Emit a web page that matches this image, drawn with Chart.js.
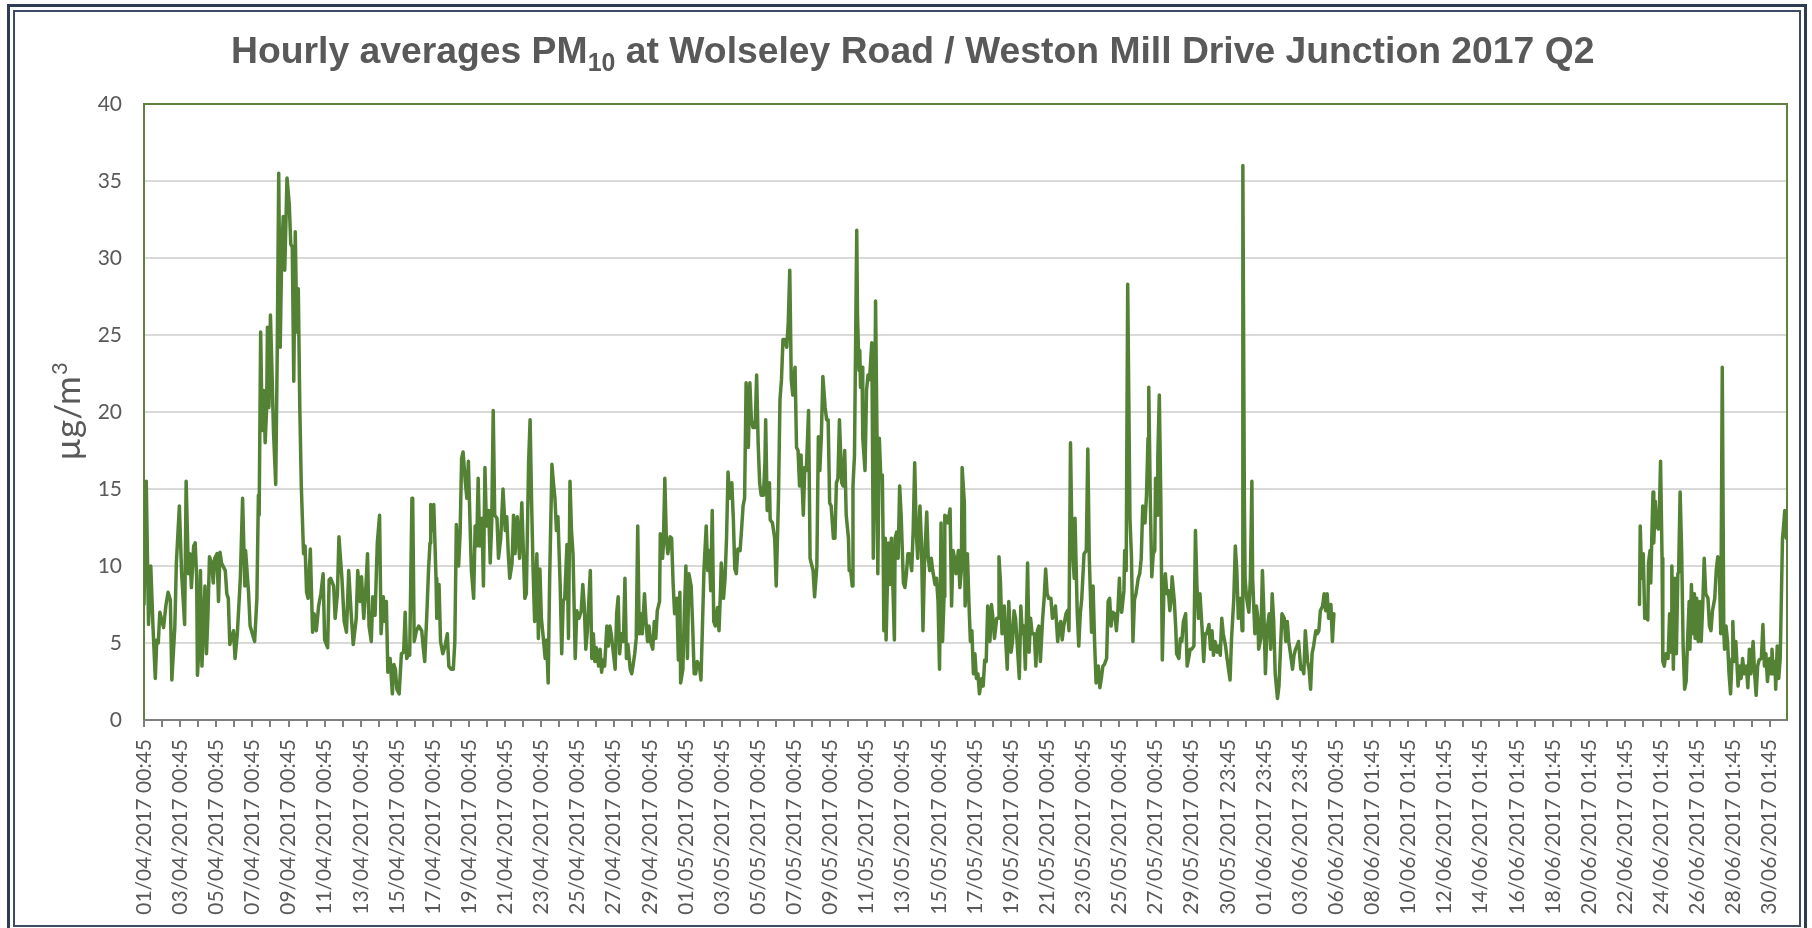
<!DOCTYPE html>
<html><head><meta charset="utf-8">
<script src="https://cdn.jsdelivr.net/npm/chart.js@4/dist/chart.umd.min.js"></script>
<style>html,body{margin:0;padding:0;background:#fff}canvas{display:block}</style>
</head><body>
<canvas id="c" width="1812" height="928"></canvas>
<script>
// ---------------- DATA ----------------
const titleMain = 'Hourly averages PM';
const titleSub = '10';
const titleRest = ' at Wolseley Road / Weston Mill Drive Junction 2017 Q2';
const yTitleMain = 'µg/m';
const yTitleSup = '3';

const yMin = 0, yMax = 40, yStep = 5;
const totalHours = 2183;          // hourly categories in the quarter
const hoursPerTick = 24;          // one tick mark per day
const tickCount = 91;

const tickLabels = [
  '01/04/2017 00:45','03/04/2017 00:45','05/04/2017 00:45','07/04/2017 00:45','09/04/2017 00:45',
  '11/04/2017 00:45','13/04/2017 00:45','15/04/2017 00:45','17/04/2017 00:45','19/04/2017 00:45',
  '21/04/2017 00:45','23/04/2017 00:45','25/04/2017 00:45','27/04/2017 00:45','29/04/2017 00:45',
  '01/05/2017 00:45','03/05/2017 00:45','05/05/2017 00:45','07/05/2017 00:45','09/05/2017 00:45',
  '11/05/2017 00:45','13/05/2017 00:45','15/05/2017 00:45','17/05/2017 00:45','19/05/2017 00:45',
  '21/05/2017 00:45','23/05/2017 00:45','25/05/2017 00:45','27/05/2017 00:45','29/05/2017 00:45',
  '30/05/2017 23:45','01/06/2017 23:45','03/06/2017 23:45','06/06/2017 00:45','08/06/2017 01:45',
  '10/06/2017 01:45','12/06/2017 01:45','14/06/2017 01:45','16/06/2017 01:45','18/06/2017 01:45',
  '20/06/2017 01:45','22/06/2017 01:45','24/06/2017 01:45','26/06/2017 01:45','28/06/2017 01:45',
  '30/06/2017 01:45'
];

// [hour index from 01/04 00:45, PM10 µg/m³]
const pm10Part1 = [
 [0,7.5],[3,15.5],[6,6.2],[9,10],[12,6],[15,2.7],[17,5.2],[19,5],[21,7],[26,6],[29,7.4],[32,8.3],[35,7.8],[37,2.6],
 [41,6.1],[43,10.2],[47,13.9],[50,9.5],[54,6.2],[56,15.5],[59,9.5],[61,10.8],[63,8.6],[66,11.3],[68,11.5],[70,9.2],
 [71,2.9],[74,5.5],[75,9.7],[77,3.5],[79,6.1],[81,8.7],[83,4.3],[85,6.9],[87,10.6],[90,10.2],[92,8.9],[94,10.5],
 [97,10.8],[99,7.7],[101,10.9],[103,10.2],[108,9.7],[110,8.2],[112,7.9],[114,4.9],[119,5.8],[121,4],[124,5.6],
 [128,9.2],[131,14.4],[134,8.7],[135,11],[139,8.2],[141,6.1],[144,5.6],[147,5.1],[150,7.9],[152,14.6],[153,13.3],
 [155,25.2],[157,18.8],[159,21.4],[161,18],[163,20.3],[164,25.5],[166,20.3],[168,26.3],[170,22.7],[172,18.8],
 [175,15.3],[177,23.7],[179,35.5],[181,24.2],[183,30.4],[185,32.7],[187,29.2],[190,35.2],[193,33.5],[195,30.9],
 [197,30.7],[199,22],[201,31.7],[203,25.2],[205,28],[207,20.3],[209,15.2],[212,10.8],[214,11.3],[216,8.3],
 [218,7.9],[221,11.1],[224,5.7],[226,6.9],[229,5.8],[232,7.4],[235,8.2],[238,9.5],[240,5.2],[244,4.7],[246,9.1],
 [248,9.2],[252,8.7],[254,6.6],[257,8.2],[259,11.9],[263,9.2],[266,6.4],[269,5.7],[272,9.7],[275,7.1],[278,4.9],
 [282,6.6],[284,9.7],[287,7.7],[289,9.3],[292,6.6],[295,8.8],[297,10.8],[299,6.1],[302,5.1],[304,8],[307,6.8],
 [310,11.5],[313,13.3]
];
const pm10Part2 = [
 [315,5.6],[318,8],[320,6.4],[322,7.7],[324,3.1],[327,4],[330,1.7],[332,3.6],[334,3.3],[336,2],[339,1.7],[342,4.3],
 [345,4.4],[347,7],[349,4],[351,4.2],[353,4.2],[356,14.4],[357,14.4],[359,5.1],[362,5.8],[365,6.1],[369,5.8],
 [371,4.7],[373,3.8],[376,7.1],[378,9.7],[380,11.5],[381,14],[383,12.3],[385,14],[388,9.2],[389,6.6],[392,8.8],
 [394,5.1],[397,4.3],[400,4.8],[403,5.6],[405,3.5],[408,3.3],[411,3.3],[413,5.1],[415,12.7],[418,10],[420,12.1],
 [422,17],[424,17.4],[427,15.4],[429,14.4],[431,16.8],[433,13.1],[435,9.7],[438,7.9],[440,12.6],[442,11.3],
 [444,15.7],[446,11.3],[449,13.1],[451,8.7],[453,16.4],[455,12.6],[458,13.6],[460,10.2],[462,12.8],[464,20.1],
 [466,13.3],[469,13.1],[471,10.5],[474,11.8],[477,15],[480,12.3],[482,13.2],[484,10.8],[486,9.2],[489,10.2],
 [491,13.3],[493,10.8],[496,13.2],[499,10.5],[502,14.1],[504,11],[506,7.9],[508,8.2],[511,16.7],[513,19.5],
 [515,14.1],[517,9.7],[519,6.4],[522,10.8],[524,5.3],[526,9.8],[528,6.6],[531,5.1],[533,4],[535,5.2],[537,2.4],
 [539,9.2],[542,16.6],[544,15.4],[546,14.4],[548,12.3],[550,13.2],[553,8.7],[555,4.3],[557,7.7],[559,7.9],
 [562,11.4],[564,5.3],[566,15.5],[568,12.3],[570,10.8],[573,4],[575,7.1],[578,6.6],[581,7.1],[583,8.8],[585,7.4],
 [587,4.6],[589,5.7],[593,9.7],[595,4],[597,5.6],[599,3.8],[601,4.7],[604,3.5],[606,4.6],[608,3.1],[610,3.9],
 [612,3.5],[615,6.1],[617,4.8],[619,6.1],[621,5.5]
];
const pm10Part3 = [
 [626,3.3],[628,6.9],[630,8],[632,4.3],[634,5.6],[637,5.1],[639,9.2],[641,4],[643,4.9],[646,3.3],[648,3],[650,3.6],
 [652,4.3],[654,5.3],[656,12.6],[658,5.6],[660,6.9],[662,5.6],[665,8.2],[667,6.4],[669,5.1],[671,6.1],[673,5.1],
 [676,4.6],[678,6.4],[680,5.3],[682,7.1],[685,7.7],[686,12.1],[689,10.5],[690,11.3],[692,15.7],[694,11.8],
 [696,10.8],[699,11.9],[701,11.8],[703,8.9],[705,6.9],[708,7.9],[710,3.9],[712,8.3],[713,2.4],[716,3.3],[718,7.1],
 [720,10],[722,4],[724,9.5],[727,8.7],[729,6.1],[731,3],[733,3],[735,3.8],[738,3.5],[740,2.6],[742,6.1],[744,9.7],
 [747,12.6],[749,9.7],[751,11],[753,8.4],[755,13.6],[757,6.4],[759,6.1],[762,7.3],[764,5.8],[766,8.4],[767,10.2],
 [770,7.9],[772,9.2],[774,11.8],[776,16.1],[778,14.4],[781,15.4],[783,13.1],[785,9.8],[787,9.5],[789,11.1],
 [792,11],[794,12.4],[796,13.9],[798,14.4],[800,21.9],[803,17.7],[805,21.9],[807,19.5],[809,19],[812,19],
 [814,22.4],[816,18],[818,15.4],[820,14.6],[823,14.6],[825,16.7],[826,19.5],[828,13.6],[831,15.4],[832,13],
 [835,12.8],[838,11.8],[840,8.7],[843,14.4],[845,20.8],[847,22.1],[849,24.7],[851,24.7],[854,24.2],[856,25.8],
 [858,29.2],[860,22.1],[862,21.1],[865,22.9],[867,17.7],[869,17.5],[871,15.2],[873,17.2],[876,13.3],[878,16.4],
 [880,16.2],[883,20.1],[885,10.5],[887,10.1],[889,9.7],[891,8],[894,10],[896,18.4],[898,16.2],[900,18.5],
 [902,22.3],[905,20.3],[907,19.5],[909,19.5],[911,14.1],[913,13.9],[916,11.8],[918,11.8],[920,15.4],[922,15.7],
 [924,19.5],[927,15.4],[929,15.2],[931,17.5],[933,13.3],[936,11.8],[937,9.7]
];
const pm10Part4 = [
 [939,9.7],[941,8.7],[942,15.2],[944,17.2],[947,31.8],[948,26.3],[950,22.7],[951,24],[952,21.6],[954,22.9],
 [955,18.3],[958,16.2],[960,21.4],[962,22.4],[964,22.1],[967,24.5],[969,10.5],[970,13.3],[972,27.2],[974,18],
 [975,9.5],[977,18.3],[979,15.7],[981,15.9],[982,11.8],[983,5.8],[985,11.8],[986,5.2],[989,11.5],[991,8.8],
 [993,11.8],[995,8.7],[997,5.2],[998,11.8],[1000,12.2],[1002,10.5],[1004,15.2],[1006,13.3],[1009,8.9],[1011,8.6],
 [1013,9.5],[1015,10.8],[1017,10.8],[1020,9.7],[1022,12.3],[1024,16.7],[1026,12.3],[1028,10.5],[1031,13.9],
 [1033,11.5],[1035,5.8],[1037,10.2],[1040,13.5],[1042,10.5],[1044,9.7],[1046,10.5],[1048,9.7],[1051,8.8],
 [1053,9.2],[1055,7.7],[1057,3.3],[1059,12.8],[1061,5.1],[1063,8],[1064,13.3],[1066,13.2],[1068,12.8],[1071,13.7],
 [1073,7.4],[1075,11],[1077,10.5],[1079,9.5],[1082,11],[1084,8.6],[1086,9.7],[1087,16.4],[1090,14.1],[1091,7.4],
 [1094,10.8],[1096,7.7],[1098,5.1],[1100,5.8],[1102,3],[1104,4.3],[1106,2.7],[1108,3],[1110,1.7],[1113,2.7],
 [1115,2.2],[1117,3.9],[1119,3.8],[1121,7.4],[1124,5.1],[1126,7.5],[1128,6.6],[1130,5.3],[1133,6.6],[1135,6.6],
 [1136,10.6],[1138,8.9],[1140,5.6],[1143,7.4],[1145,5.1],[1147,3.3],[1149,7.7],[1152,4.4],[1154,5.1],[1156,7.1],
 [1158,6.6],[1160,5.1],[1163,2.7],[1165,7.4],[1167,5.6],[1169,6.1],[1171,3.3],[1174,10.2],[1176,4.4],[1178,6.6],
 [1180,5.6],[1183,5.6],[1185,3.5],[1187,5.8],[1189,6.1],[1191,3.8],[1194,6.6],[1196,7.9],[1198,9.8],[1200,8.2],
 [1202,7.9],[1205,7.9],[1207,6.6],[1209,6.9],[1211,7.4],[1214,5.1],[1216,6.1],[1218,6.4],[1220,5.2],[1222,6.1],
 [1225,6.9],[1227,7.1],[1229,5.8],[1231,18],[1233,11.5],[1236,9.2],[1237,13.1],[1240,6.9],[1242,4.8],[1244,6.9],
 [1246,7.9],[1249,10.8]
];
const pm10Part5 = [
 [1252,11],[1254,17.6],[1256,10.5],[1259,5.7],[1261,8.7],[1263,5.1],[1265,2.4],[1268,3.5],[1270,2.1],[1272,2.7],
 [1274,3.5],[1276,3.6],[1279,4],[1281,7.7],[1283,7.9],[1285,6.1],[1287,7],[1290,6.9],[1292,5.8],[1294,7.1],
 [1296,9.2],[1297,7.7],[1299,7],[1302,8.4],[1303,11],[1305,9.7],[1307,28.3],[1310,13.1],[1312,10.6],[1314,5.1],
 [1316,7.8],[1318,8.2],[1321,9.2],[1323,9.5],[1325,10.5],[1327,13.9],[1330,12.8],[1332,14.6],[1334,18.3],
 [1335,21.6],[1337,14.4],[1339,9.3],[1341,10.8],[1343,11],[1344,15.7],[1346,13.3],[1347,17],[1349,21.1],
 [1351,14.4],[1353,3.9],[1355,8.2],[1357,9.5],[1359,8.2],[1361,8.4],[1363,7.1],[1365,7.9],[1366,9.3],[1369,7.7],
 [1371,5.8],[1372,4.3],[1375,4],[1377,5.3],[1379,5.1],[1381,6.4],[1384,6.9],[1386,3.5],[1388,4],[1390,4.6],
 [1392,4.6],[1395,4.8],[1397,12.3],[1399,8.7],[1401,6.6],[1403,8.2],[1406,5.8],[1408,3.8],[1410,5.6],[1412,5.6],
 [1415,6.2],[1417,4.6],[1419,5.8],[1421,4.2],[1423,5.1],[1426,4.4],[1428,4.8],[1430,4.2],[1432,6.6],[1434,5.6],
 [1437,4.8],[1439,4],[1441,3.3],[1443,2.6],[1445,5.3],[1448,7.9],[1450,11.3],[1452,9.7],[1454,6.6],[1457,7.9],
 [1459,5.8],[1460,36],[1462,14.4],[1463,9.2],[1465,7.9],[1468,7],[1470,9.2],[1472,15.5],[1473,9.2],[1476,5.6],
 [1478,7.4],[1480,6.6],[1481,4.6],[1484,5.3],[1486,9.7],[1488,6.9],[1490,3],[1492,5.8],[1495,6.9],[1497,4.6],
 [1499,8.2],[1501,6.4],[1503,3],[1506,1.4],[1508,2.2],[1510,4.6],[1512,6.9],[1515,6.6],[1517,5.1],[1519,6.4],
 [1521,5.1],[1523,4.4],[1526,3.3],[1528,4.2],[1530,4.6],[1532,4.8],[1534,5.1],[1537,3.3],[1539,3.4],[1541,3],
 [1543,5.8],[1546,3.8],[1548,3.3],[1550,2],[1552,4.3],[1554,4.8],[1557,5.8],[1559,5.6],[1561,5.8],[1563,7.1],
 [1566,7.4],[1568,8.2],[1570,7.1],[1572,8.2],[1574,6.6],[1577,7.5],[1579,5.1],[1581,6.9]
];
const pm10Missing = [[1700,null]];   // no data 06/06 – 22/06
const pm10Part6 = [
 [1987,7.5],[1988,12.6],[1990,9.2],[1992,10.8],[1994,6.6],[1996,6.6],[1998,6.5],[1999,10.2],[2001,11],[2002,8.9],
 [2004,13.1],[2005,14.8],[2006,11.5],[2008,14.2],[2010,12.6],[2012,12.4],[2013,12.6],[2015,16.8],[2017,10.5],
 [2018,3.8],[2020,3.5],[2022,4.3],[2025,4],[2027,6.9],[2029,4.4],[2030,10],[2032,3.3],[2034,9.2],[2036,4.3],
 [2038,9.5],[2039,9.6],[2041,14.8],[2043,11],[2045,4.8],[2047,2],[2049,2.5],[2051,5.3],[2053,7.7],[2054,4.6],
 [2056,8.8],[2058,5.6],[2060,8.2],[2061,5.3],[2063,7.9],[2065,5.1],[2067,7.7],[2069,5.1],[2071,7.4],[2073,10.5],
 [2075,8.2],[2078,7.9],[2080,6.1],[2082,5.8],[2084,7.1],[2087,7.9],[2089,9.7],[2091,10.6],[2093,10],[2095,5.6],
 [2097,22.9],[2099,5.8],[2100,4.6],[2102,6.1],[2104,5.1],[2106,3],[2108,1.7],[2110,4],[2111,6.4],[2113,3.8],
 [2115,5.1],[2118,2.2],[2120,3.5],[2122,2.7],[2124,4],[2126,3],[2129,3.5],[2131,2.1],[2133,4.6],[2135,3],
 [2138,5.1],[2140,3],[2142,1.6],[2144,3.5],[2146,3.9],[2149,4],[2151,6.2],[2153,3.5],[2155,4.3],[2157,2.5],
 [2160,4],[2162,3],[2163,4.6],[2165,3],[2167,3.8],[2168,2],[2170,4.8],[2172,2.7],[2174,4],[2177,11.8],[2178,12.3],
 [2180,13.6],[2182,11.8]
];

// ---------------- STYLE ----------------
const FONT = 'Lato, "Open Sans", sans-serif';
const GREY_TEXT = '#595959';
const LINE_GREEN = '#548235';
const PLOT_BORDER = '#62803f';

const points = [...pm10Part1, ...pm10Part2, ...pm10Part3, ...pm10Part4, ...pm10Part5, ...pm10Missing, ...pm10Part6]
  .map(([h, v]) => ({ x: h, y: v }));

const decor = {
  id: 'decor',
  beforeDraw(chart) {
    const ctx = chart.ctx;
    ctx.save();
    ctx.fillStyle = '#ffffff';
    ctx.fillRect(0, 0, chart.width, chart.height);
    ctx.restore();
  },
  beforeDatasetsDraw(chart) {
    const { ctx, chartArea: a } = chart;
    ctx.save();
    ctx.strokeStyle = PLOT_BORDER;
    ctx.lineWidth = 2;
    ctx.beginPath();
    ctx.moveTo(a.left, a.bottom);
    ctx.lineTo(a.left, a.top);
    ctx.lineTo(a.right, a.top);
    ctx.lineTo(a.right, a.bottom);
    ctx.stroke();
    ctx.restore();
  },
  afterDraw(chart) {
    const { ctx, chartArea: a } = chart;
    ctx.save();
    // outer double frame
    ctx.strokeStyle = '#2f3c52';
    ctx.lineWidth = 3;
    ctx.strokeRect(8.5, 5.5, 1797, 940);
    ctx.strokeStyle = '#3e4c63';
    ctx.lineWidth = 2;
    ctx.strokeRect(14, 11, 1786, 915);

    // title with subscript
    const targetW = 1364, cx = 913, baseY = 63;
    ctx.font = 'bold 36px "Liberation Sans", Arial, sans-serif';
    const w1 = ctx.measureText(titleMain).width, w3 = ctx.measureText(titleRest).width;
    ctx.font = 'bold 24px "Liberation Sans", Arial, sans-serif';
    const w2 = ctx.measureText(titleSub).width;
    const k = targetW / (w1 + w2 + w3);
    const big = 36 * k, small = 24 * k;
    const x0 = cx - targetW / 2;
    ctx.fillStyle = GREY_TEXT;
    ctx.textBaseline = 'alphabetic';
    ctx.textAlign = 'left';
    ctx.font = `bold ${big}px "Liberation Sans", Arial, sans-serif`;
    ctx.fillText(titleMain, x0, baseY);
    ctx.font = `bold ${small}px "Liberation Sans", Arial, sans-serif`;
    ctx.fillText(titleSub, x0 + w1 * k, baseY + 8);
    ctx.font = `bold ${big}px "Liberation Sans", Arial, sans-serif`;
    ctx.fillText(titleRest, x0 + (w1 + w2) * k, baseY);

    // y axis title (rotated) with superscript
    ctx.translate(80, (a.top + a.bottom) / 2);
    ctx.rotate(-Math.PI / 2);
    ctx.font = `35px ${FONT}`;
    const m1 = ctx.measureText(yTitleMain).width;
    ctx.font = `22px ${FONT}`;
    const m2 = ctx.measureText(yTitleSup).width;
    const sx = -(m1 + m2) / 2;
    ctx.font = `35px ${FONT}`;
    ctx.fillText(yTitleMain, sx, 0);
    ctx.font = `22px ${FONT}`;
    ctx.fillText(yTitleSup, sx + m1 + 1, -13);
    ctx.restore();
  }
};

new Chart(document.getElementById('c'), {
  type: 'line',
  data: {
    datasets: [{
      data: points,
      borderColor: LINE_GREEN,
      borderWidth: 3.5,
      pointRadius: 0,
      tension: 0,
      spanGaps: false,
      borderJoinStyle: 'round',
      borderCapStyle: 'round'
    }]
  },
  options: {
    responsive: false,
    animation: false,
    devicePixelRatio: 1,
    events: [],
    layout: { padding: { left: 0, top: 104, right: 25, bottom: 0 } },
    plugins: { legend: { display: false }, tooltip: { enabled: false }, title: { display: false } },
    scales: {
      x: {
        type: 'linear',
        min: 0,
        max: totalHours,
        afterBuildTicks(scale) {
          scale.ticks = Array.from({ length: tickCount }, (_, d) => ({ value: d * hoursPerTick }));
        },
        afterFit(scale) { scale.height = 208; },
        grid: { drawOnChartArea: false, drawTicks: true, tickLength: 7, color: '#7f7f7f', lineWidth: 2 },
        border: { display: true, color: '#7f7f7f', width: 2 },
        ticks: {
          autoSkip: false,
          maxRotation: 90,
          minRotation: 90,
          padding: 12,
          color: GREY_TEXT,
          font: { family: FONT, size: 21 },
          callback(value, index) { return index % 2 === 0 ? tickLabels[index / 2] : ''; }
        }
      },
      y: {
        min: yMin,
        max: yMax,
        afterFit(scale) { scale.width = 144; },
        grid: { color: '#d9d9d9', lineWidth: 2, drawTicks: false },
        border: { display: false },
        ticks: {
          stepSize: yStep,
          padding: 22,
          color: GREY_TEXT,
          font: { family: FONT, size: 21 }
        }
      }
    }
  },
  plugins: [decor]
});
</script>
</body></html>
